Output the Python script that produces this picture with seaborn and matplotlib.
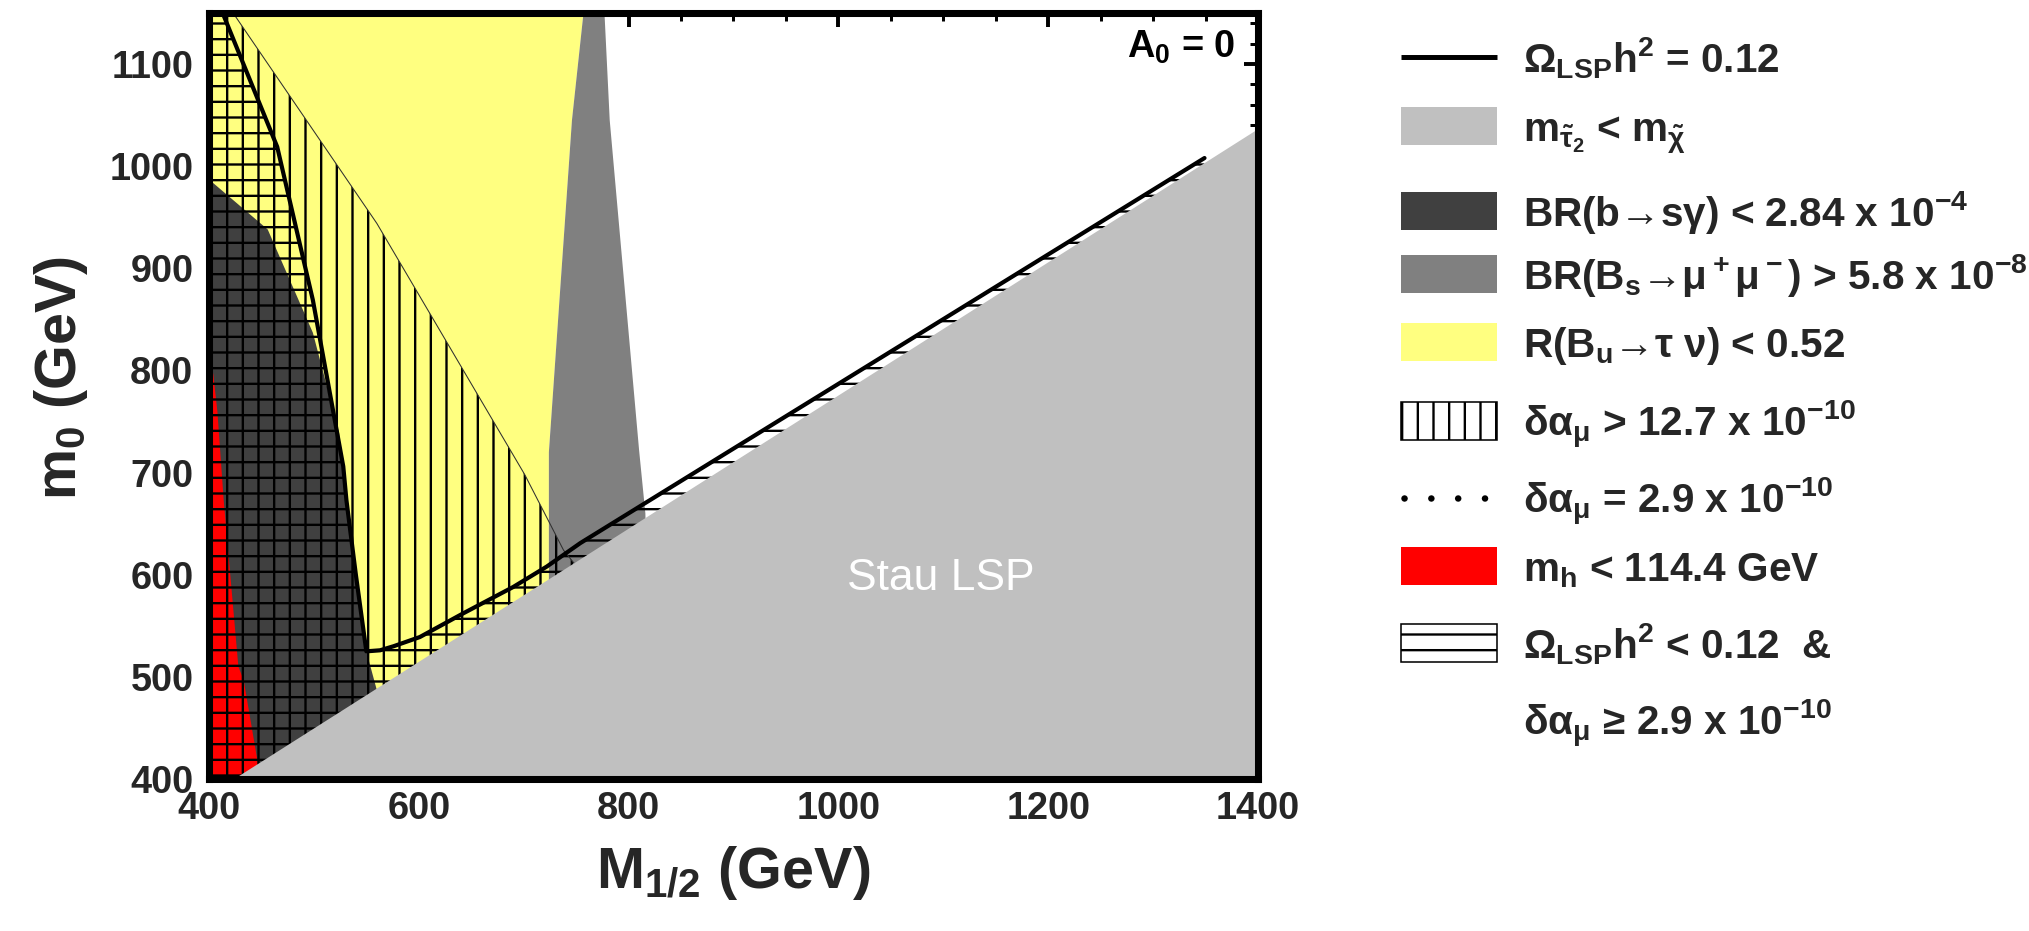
import matplotlib
matplotlib.use("Agg")
import matplotlib.pyplot as plt
import seaborn as sns
from matplotlib.patches import Rectangle
from matplotlib.ticker import MultipleLocator

# ---------------- data (M_1/2 and m_0 in GeV) ----------------
M12_RANGE = [400, 1400]
M0_RANGE = [400, 1150]

# stau LSP boundary (light grey region below the line)
stau_M12 = [423, 1400]
stau_m0 = [400, 1037]

# relic density contour Omega_LSP h^2 = 0.12
relic_M12 = [413, 465, 499, 528, 531, 540, 550, 563, 576, 601, 642, 690, 722, 754, 1349]
relic_m0 = [1150, 1019, 869, 706, 673, 600, 525, 526, 530, 539, 562, 588, 608, 631, 1008]

# BR(b -> s gamma) excluded region boundary (dark grey, to the left)
bsg_M12 = [400, 456, 499, 524, 531, 550, 560, 570]
bsg_m0 = [987, 938, 837, 739, 673, 525, 487, 400]

# R(B_u -> tau nu) boundary (yellow region to the left)
btaunu_M12 = [757, 746, 724, 724]
btaunu_m0 = [1150, 1045, 720, 400]

# BR(B_s -> mu mu) wedge right edge (left edge = btaunu boundary)
bsmumu_M12 = [777, 782, 810, 816, 822]
bsmumu_m0 = [1150, 1045, 722, 660, 400]

# m_h < 114.4 GeV boundary (red strip)
mh_M12 = [400, 404, 408, 414, 428, 433, 446, 449]
mh_m0 = [797, 797, 760, 673, 510, 497, 419, 400]

# delta a_mu > 12.7e-10 boundary (vertical hatching to the left)
gmu_M12 = [423, 560, 701, 738, 749, 749]
gmu_m0 = [1150, 944, 698, 624, 610, 400]

x_ticks = [400, 600, 800, 1000, 1200, 1400]
y_ticks = [400, 500, 600, 700, 800, 900, 1000, 1100]

legend_labels = [
    r"Ω$_{LSP}$h$^2$ = 0.12",
    r"m$_{\tilde{\tau}_2}$ < m$_{\tilde{\chi}}$",
    r"BR(b→sγ) < 2.84 x 10$^{-4}$",
    r"BR(B$_s$→μ$^+$μ$^-$) > 5.8 x 10$^{-8}$",
    r"R(B$_u$→τ ν) < 0.52",
    r"δα$_\mu$ > 12.7 x 10$^{-10}$",
    r"δα$_\mu$ = 2.9 x 10$^{-10}$",
    r"m$_h$ < 114.4 GeV",
    r"Ω$_{LSP}$h$^2$ < 0.12  &",
    r"δα$_\mu$ ≥ 2.9 x 10$^{-10}$",
]
legend_kinds = ["line", "#c0c0c0", "#404040", "#808080", "#ffff80",
                "vhatch", "dots", "#ff0000", "hhatch", None]

# ---------------- style ----------------
sns.set_style("white")
plt.rcParams["font.family"] = ["Liberation Sans", "DejaVu Sans"]
plt.rcParams["mathtext.fontset"] = "custom"
plt.rcParams["mathtext.rm"] = "Liberation Sans:bold"
plt.rcParams["mathtext.it"] = "Liberation Sans:bold"
plt.rcParams["mathtext.bf"] = "Liberation Sans:bold"
plt.rcParams["mathtext.sf"] = "Liberation Sans:bold"
plt.rcParams["mathtext.fallback"] = "stixsans"
plt.rcParams["hatch.color"] = "black"
plt.rcParams["hatch.linewidth"] = 1.8

DPI = 94
fig = plt.figure(figsize=(2029 / DPI, 931 / DPI), dpi=DPI)
ax = fig.add_axes([209 / 2029, 1 - 779 / 931, (1258 - 209) / 2029, (779 - 13) / 931])

YEL, DARK, MED, LIGHT, RED = "#ffff80", "#404040", "#808080", "#c0c0c0", "#ff0000"

# yellow region
ax.fill([400] + btaunu_M12 + [400], [1150] + btaunu_m0 + [400],
        color=YEL, lw=0, zorder=1.0)
# B_s -> mu mu wedge
ax.fill(btaunu_M12 + bsmumu_M12[::-1], btaunu_m0 + bsmumu_m0[::-1],
        color=MED, lw=0, zorder=1.1)
# b -> s gamma
ax.fill(bsg_M12 + [400], bsg_m0 + [400], color=DARK, lw=0, zorder=1.2)
# m_h
ax.fill(mh_M12 + [400], mh_m0 + [400], color=RED, lw=0, zorder=1.3)
# g-2 vertical hatching
ax.fill([400] + gmu_M12 + [400], [1150] + gmu_m0 + [400],
        facecolor="none", edgecolor="black", lw=0, hatch="|", zorder=1.5)
# Omega < 0.12 horizontal hatching
ax.fill([400] + relic_M12 + [relic_M12[-1], 400],
        [1150] + relic_m0 + [400, 400],
        facecolor="none", edgecolor="black", lw=0, hatch="-", zorder=1.5)
# thin g-2 boundary
sns.lineplot(x=gmu_M12[:-1], y=gmu_m0[:-1], sort=False, estimator=None,
             color="#303030", lw=0.8, ax=ax, zorder=1.6)
# relic density line
sns.lineplot(x=relic_M12, y=relic_m0, sort=False, estimator=None,
             color="black", lw=3.2, ax=ax, zorder=1.8)
# stau LSP region
ax.fill_between(stau_M12, stau_m0, 400, color=LIGHT, lw=0, zorder=2.0)

ax.text(1008, 585, "Stau LSP", color="white", fontsize=34, ha="left",
        va="baseline", zorder=3)
ax.text(1378, 1106, r"A$_0$ = 0", color="black", fontsize=29,
        fontweight="bold", ha="right", va="baseline", zorder=3)

ax.set_xlim(*M12_RANGE)
ax.set_ylim(*M0_RANGE)
ax.set_xticks(x_ticks)
ax.set_yticks(y_ticks)
ax.xaxis.set_minor_locator(MultipleLocator(50))
ax.yaxis.set_minor_locator(MultipleLocator(20))
ax.tick_params(which="both", direction="in", top=True, right=True, color="black")
ax.tick_params(which="major", length=11, width=3)
ax.tick_params(which="minor", length=6, width=2.3)
ax.tick_params(axis="x", pad=9)
ax.tick_params(axis="y", pad=12)
for lab in ax.get_xticklabels() + ax.get_yticklabels():
    lab.set_fontsize(29)
    lab.set_fontweight("bold")
for sp in ax.spines.values():
    sp.set_linewidth(5.4)
    sp.set_color("black")

ax.set_xlabel(r"M$_{1/2}$ (GeV)", fontsize=44, fontweight="bold")
ax.xaxis.set_label_coords(0.5, -0.085)
ax.set_ylabel(r"m$_0$ (GeV)", fontsize=44, fontweight="bold")
ax.yaxis.set_label_coords(-0.113, 0.524)

# ---------------- legend (figure pixel coordinates) ----------------
lax = fig.add_axes([0, 0, 1, 1])
lax.set_xlim(0, 2029)
lax.set_ylim(931, 0)
lax.axis("off")
row_y = [57, 126, 211, 274, 342, 421, 498, 566, 643, 720]
hx0, hx1, htxt = 1401, 1497, 1523
for kind, label, yc in zip(legend_kinds, legend_labels, row_y):
    if kind == "line":
        lax.plot([hx0, hx1], [yc, yc], color="black", lw=3.8, solid_capstyle="butt")
    elif kind == "dots":
        lax.plot([hx0 + 3, hx0 + 85], [yc, yc], color="black", lw=5,
                 linestyle=(0, (0.01, 4.1)), dash_capstyle="round")
    elif kind == "vhatch":
        lax.add_patch(Rectangle((hx0, yc - 19), hx1 - hx0, 38, facecolor="white",
                                edgecolor="black", lw=1.2, hatch="|"))
    elif kind == "hhatch":
        lax.add_patch(Rectangle((hx0, yc - 19), hx1 - hx0, 38, facecolor="white",
                                edgecolor="black", lw=1.2, hatch="-"))
    elif kind is not None:
        lax.add_patch(Rectangle((hx0, yc - 19), hx1 - hx0, 38, facecolor=kind,
                                edgecolor="none"))
    lax.text(htxt, yc + 15, label, fontsize=31, fontweight="bold",
             ha="left", va="baseline")

fig.savefig("out.png", dpi=DPI)
